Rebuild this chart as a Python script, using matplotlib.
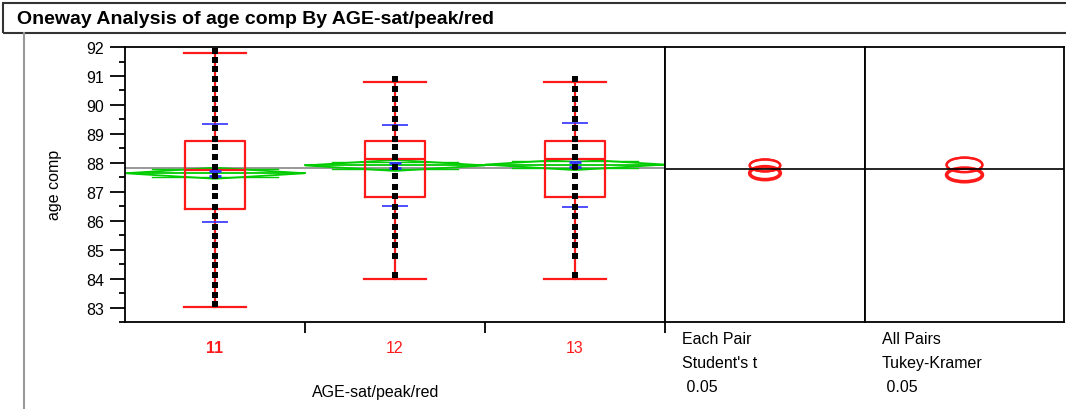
import numpy as np
import matplotlib.pyplot as plt
from matplotlib.patches import Rectangle, Ellipse, Polygon
from matplotlib.lines import Line2D

plt.rcParams['font.family'] = ['Liberation Sans', 'DejaVu Sans']

# data
groups = ['11', '12', '13']
g11 = [91.87, 91.56, 91.24, 90.88, 90.56, 90.19, 89.87, 89.53, 89.21, 88.84, 88.53, 88.21, 87.85, 87.53,
       87.16, 86.85, 86.48, 86.16, 85.79, 85.47, 85.16, 84.79, 84.47, 84.11, 83.79, 83.43, 83.11]
g12 = [90.88, 90.56, 90.19, 89.87, 89.53, 89.21, 88.84, 88.53, 88.2, 87.85, 87.53, 87.16, 86.85, 86.48,
       86.16, 85.79, 85.47, 85.16, 84.79, 84.11]
g13 = [90.88, 90.56, 90.19, 89.87, 89.53, 89.21, 88.84, 88.53, 88.2, 87.85, 87.53, 87.16, 86.85, 86.48,
       86.16, 85.79, 85.47, 85.16, 84.79, 84.11]
points = [g11, g12, g13]
q1 = [86.40, 86.81, 86.81]
med = [87.75, 88.13, 88.13]
q3 = [88.75, 88.75, 88.75]
whislo = [83.03, 84.00, 84.00]
whishi = [91.78, 90.81, 90.81]
means = [87.64, 87.91, 87.94]
sd = [1.70, 1.41, 1.45]
se = [0.08, 0.10, 0.10]
ci = [0.19, 0.19, 0.19]
grand_mean = 87.81
# comparison circles (center, radius)
stud_c = [87.66, 87.92, 87.93]
stud_r = [0.223, 0.206, 0.206]
tuk_c = [87.60, 87.94, 87.95]
tuk_r = [0.235, 0.25, 0.25]

W, H = 1066, 410
fig = plt.figure(figsize=(W / 100, H / 100), dpi=100)

def px_axes(x0, x1, y0, y1):
    return fig.add_axes([x0 / W, 1 - y1 / H, (x1 - x0) / W, (y1 - y0) / H])

ylim = (82.535, 92.02)
red = '#ff1a1a'
green = '#00cc00'
blue = '#3030ff'

# title box
fig.patches.append(Rectangle((3 / W, 1 - 34 / H), 1.1, 30 / H, transform=fig.transFigure,
                             fill=False, ec='#333333', lw=1.5))
fig.text(17 / W, 1 - 19 / H, 'Oneway Analysis of age comp By AGE-sat/peak/red', fontsize=14,
         fontweight='bold', va='center', ha='left')
fig.add_artist(Line2D([24 / W, 24 / W], [0, 1 - 34 / H], transform=fig.transFigure, color='#999999', lw=1.5))

# main panel
ax = px_axes(125, 665, 47.5, 323)
ax.set_xlim(0.5, 3.5)
ax.set_ylim(*ylim)
x = np.arange(1, 4)

ax.axhline(grand_mean, color='#888888', lw=1.2, zorder=1)

for i in range(3):
    c = x[i]
    # means diamond
    ax.add_patch(Polygon([(c - 0.5, means[i]), (c, means[i] + ci[i]), (c + 0.5, means[i]), (c, means[i] - ci[i])],
                         closed=True, fill=False, ec=green, lw=1.3, zorder=2))
    ax.plot([c - 0.5, c + 0.5], [means[i], means[i]], color=green, lw=1.3, zorder=2)
    h = ci[i] / np.sqrt(2)
    ax.plot([c - 0.35, c + 0.35], [means[i] + h] * 2, color=green, lw=1, zorder=2)
    ax.plot([c - 0.35, c + 0.35], [means[i] - h] * 2, color=green, lw=1, zorder=2)

stats = [dict(med=med[i], q1=q1[i], q3=q3[i], whislo=whislo[i], whishi=whishi[i], fliers=[]) for i in range(3)]
ax.bxp(stats, positions=x, widths=0.333, showfliers=False,
       boxprops=dict(color=red, lw=1.6), whiskerprops=dict(color=red, lw=1.6),
       capprops=dict(color=red, lw=1.6), medianprops=dict(color=red, lw=1.6), capwidths=0.34,
       manage_ticks=False, zorder=3)

for i in range(3):
    c = x[i]
    ax.hlines([means[i] + sd[i], means[i] - sd[i]], c - 0.07, c + 0.07, color=blue, lw=1.2, zorder=4)
    ax.errorbar(c, means[i], yerr=se[i], color=blue, capsize=4, lw=1.2, capthick=2, zorder=4)
    ax.plot(np.full(len(points[i]), c), points[i], 's', color='black', ms=4.3, mew=0, zorder=5)

ax.set_xticks(x)
ax.set_xticklabels(groups, color=red, fontsize=11.5)
ax.get_xticklabels()[0].set_fontweight('bold')
ax.tick_params(axis='x', which='major', length=0, pad=13)
ax.set_xticks([1.5, 2.5, 3.5], minor=True)
ax.tick_params(axis='x', which='minor', length=8, width=1.3, direction='out')
ax.set_yticks(range(83, 93))
ax.set_yticks(np.arange(82.5, 92.5, 1.0), minor=True)
ax.tick_params(axis='y', which='major', length=11, width=1.3, labelsize=11.5, pad=4)
ax.tick_params(axis='y', which='minor', length=4, width=1.3)
ax.set_ylabel('age comp', fontsize=11.5)
ax.yaxis.set_label_coords(-(125 - 62) / 540, 0.5)
ax.set_xlabel('AGE-sat/peak/red', fontsize=11.5)
ax.xaxis.set_label_coords((376 - 125) / 540, -(385 - 323) / 275.5)
for s in ax.spines.values():
    s.set_linewidth(1.3)

# comparison circle panels
panels = [(665, 865, stud_c, stud_r, 0.153, ['Each Pair', "Student's t", ' 0.05']),
          (865, 1064, tuk_c, tuk_r, 0.18, ['All Pairs', 'Tukey-Kramer', ' 0.05'])]
for x0, x1, cc, rr, w, labels in panels:
    pa = px_axes(x0, x1, 47.5, 323)
    pa.set_xlim(0, 1)
    pa.set_ylim(*ylim)
    pa.axhline(grand_mean, color='black', lw=1.2)
    for i in [2, 1, 0]:
        pa.add_patch(Ellipse((0.5, cc[i]), w, 2 * rr[i], fill=False, ec=red,
                             lw=2.6 if i == 0 else 1.6))
    pa.set_xticks([])
    pa.set_yticks([])
    for s in pa.spines.values():
        s.set_linewidth(1.3)
    for k, t in enumerate(labels):
        pa.text(17 / (x1 - x0), -(339 - 323) / 275.5 - k * 24.5 / 275.5, t, transform=pa.transAxes,
                fontsize=11.5, va='center', ha='left')

plt.savefig('out.png', dpi=100)
